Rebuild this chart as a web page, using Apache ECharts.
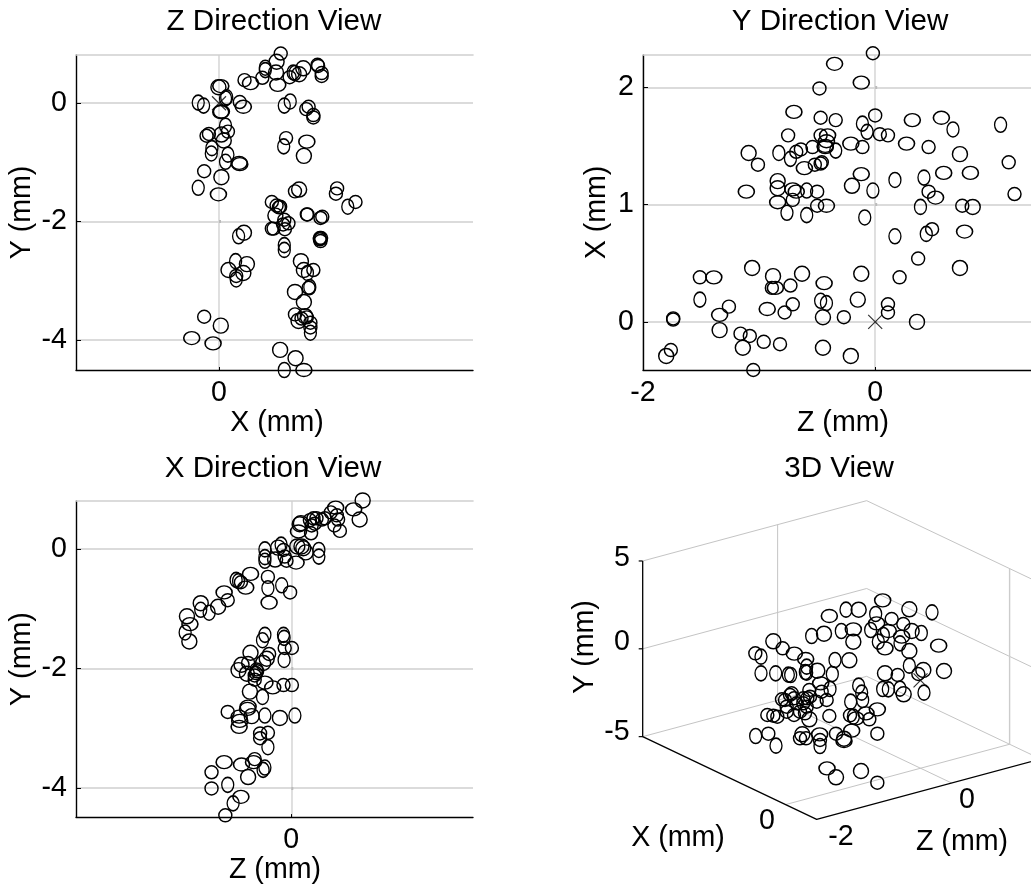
<!DOCTYPE html>
<html><head><meta charset="utf-8">
<style>html,body{margin:0;padding:0;background:#fff}#c{width:1031px;height:886px}</style>
<script src="https://cdn.jsdelivr.net/npm/echarts@6/dist/echarts.min.js"></script>
</head><body><div id="c"></div>
<script>
// Z Direction View: [X (mm), Y (mm)]
const zView = [[1.04,.84],[.97,.70],[.78,.60],[.78,.56],[.73,.43],[.96,.52],[.99,.31],[1.19,.44],[1.25,.52],[1.28,.51],[1.35,.49],[1.42,.59],[1.66,.65],[1.67,.63],[1.73,.51],[1.73,.46],[.43,.39],[.53,.34],[-.01,.27],[.03,.29],[-.35,.01],[-.26,-.04],[.13,.10],[.11,.08],[.35,.02],[.41,-.06],[.03,-.15],[.04,-.14],[1.10,-.04],[1.20,.03],[1.47,-.10],[1.51,-.06],[1.59,-.20],[1.59,-.24],[.11,-.38],[.15,-.48],[-.17,-.52],[-.21,-.55],[.04,-.53],[.08,-.63],[1.13,-.59],[1.09,-.73],[1.48,-.65],[1.43,-.89],[-.12,-.76],[-.13,-.85],[.15,-.87],[.11,-.99],[.34,-1.01],[.35,-1.03],[-.25,-1.15],[.04,-1.25],[-.35,-1.43],[-.01,-1.54],[1.28,-1.49],[1.35,-1.46],[1.99,-1.44],[1.97,-1.53],[2.30,-1.67],[2.17,-1.75],[.89,-1.67],[.97,-1.73],[1.03,-1.75],[1.01,-1.76],[.95,-1.90],[1.48,-1.88],[1.49,-1.88],[1.74,-1.92],[1.71,-1.94],[1.10,-1.97],[1.17,-2.03],[1.08,-2.05],[.89,-2.12],[.92,-2.12],[1.11,-2.13],[.42,-2.19],[.33,-2.25],[1.70,-2.28],[1.72,-2.28],[1.70,-2.30],[1.71,-2.33],[1.10,-2.40],[1.10,-2.48],[1.38,-2.67],[.28,-2.67],[.47,-2.72],[1.43,-2.82],[1.59,-2.82],[1.49,-2.87],[.16,-2.82],[.41,-2.87],[.29,-2.92],[.29,-2.98],[1.51,-3.12],[1.53,-3.11],[1.28,-3.19],[1.43,-3.36],[1.28,-3.57],[1.45,-3.60],[1.48,-3.62],[1.39,-3.64],[1.34,-3.68],[1.54,-3.71],[1.54,-3.79],[1.54,-3.88],[-.25,-3.61],[.03,-3.76],[-.46,-3.97],[-.10,-4.06],[1.03,-4.17],[1.29,-4.31],[1.10,-4.51],[1.43,-4.51]];
const zViewShape = '0 3 2 2 0 3 1 0 2 2 3 3 0 0 0 0 0 1 3 1 2 2 2 2 0 1 1 1 2 2 0 0 0 0 2 0 0 0 3 3 0 2 1 3 2 2 2 2 1 1 0 3 2 1 0 3 0 0 0 2 0 0 0 0 3 0 0 0 0 0 0 0 0 0 0 3 2 0 0 0 0 2 2 3 2 3 3 0 2 3 3 0 2 0 2 3 3 0 3 0 0 3 0 0 2 0 3 1 1 3 3 2 1'.split(' ');
// Y Direction View: [Z (mm), X (mm)]
const yView = [[-.02,2.29],[-.35,2.20],[-.12,2.04],[-.48,1.99],[-.70,1.79],[-.47,1.74],[-.34,1.72],[0,1.76],[-.11,1.69],[-.07,1.62],[.32,1.72],[.57,1.74],[.67,1.64],[1.08,1.68],[-.75,1.59],[-.47,1.59],[-.41,1.59],[-.42,1.54],[-.43,1.50],[-.43,1.49],[-.54,1.49],[-.64,1.47],[-.68,1.45],[-.73,1.39],[-.83,1.44],[-1.09,1.44],[-1.01,1.34],[1.15,1.36],[-.34,1.46],[-.21,1.52],[-.11,1.49],[.04,1.60],[.11,1.59],[.27,1.52],[.46,1.49],[.73,1.43],[-.46,1.36],[-.47,1.35],[-.52,1.34],[-.61,1.31],[-.84,1.20],[-.84,1.14],[-.12,1.26],[-.20,1.16],[.17,1.21],[.42,1.23],[.59,1.27],[.82,1.27],[-.02,1.12],[.46,1.11],[.52,1.06],[1.20,1.09],[-1.11,1.11],[-.71,1.13],[-.68,1.11],[-.59,1.12],[-.50,1.11],[-.71,1.04],[-.84,1.02],[-.50,.99],[-.42,.99],[-.76,.93],[-.59,.91],[-.09,.89],[.39,.98],[.75,.99],[.84,.98],[.17,.73],[.44,.75],[.49,.79],[.77,.77],[.37,.54],[.73,.46],[-1.06,.46],[-.88,.39],[-.63,.41],[-.12,.41],[.21,.38],[-1.51,.38],[-1.39,.38],[-.44,.33],[-.73,.31],[-.89,.29],[-.86,.29],[-1.51,.19],[-.47,.18],[-.42,.16],[-.15,.19],[-.71,.15],[-1.26,.13],[-.93,.11],[-.78,.08],[.11,.15],[.11,.08],[-1.74,.03],[-1.74,.02],[-1.34,.06],[-.45,.04],[-.27,.04],[.36,0],[-1.34,-.07],[-1.16,-.10],[-1.08,-.12],[-.96,-.17],[-.82,-.19],[-1.14,-.22],[-.45,-.22],[-.21,-.29],[-1.76,-.24],[-1.80,-.29],[-1.05,-.41]];
const yViewShape = ('01101000221122'+'0011110002230021000103'+'0001331322112010'+'111200101222203'+'220103'+'33330011001'+'222300100000130'+'330000333030').split('');
// X Direction View: [Z (mm), Y (mm)]
const xView = [[1.19,.81],[1.04,.66],[1.14,.49],[.74,.69],[.66,.61],[.76,.56],[.78,.49],[.72,.39],[.81,.30],[.56,.51],[.51,.49],[.42,.51],[.37,.51],[.31,.48],[.39,.42],[.34,.39],[.33,.26],[.16,.43],[.14,.41],[.12,.29],[.17,.04],[.10,.04],[.20,.01],[.24,-.06],[.46,-.02],[.46,-.13],[-.17,.07],[-.22,.02],[-.13,-.02],[-.11,-.13],[-.27,-.18],[-.08,-.20],[.08,-.23],[-.44,-.01],[-.44,-.14],[-.44,-.20],[-.68,-.42],[-.39,-.47],[-.16,-.61],[-.02,-.73],[-.39,-.66],[-.37,-.90],[-.92,-.52],[-.88,-.54],[-.84,-.56],[-.76,-.65],[-1.12,-.73],[-1.06,-.86],[-1.22,-.97],[-1.51,-.91],[-1.51,-1.02],[-1.37,-1.07],[-1.74,-1.13],[-1.69,-1.26],[-1.77,-1.40],[-1.70,-1.55],[-.44,-1.44],[-.48,-1.53],[-.13,-1.44],[-.12,-1.49],[-.11,-1.66],[.01,-1.66],[-.68,-1.74],[-.37,-1.76],[-.41,-1.84],[-.47,-1.91],[-.12,-1.86],[-.83,-1.94],[-.72,-1.91],[-.88,-2.03],[-.74,-2.09],[-.58,-2.02],[-.57,-2.05],[-.59,-2.08],[-.61,-2.12],[-.61,-2.19],[-.44,-2.24],[-.31,-2.32],[-.13,-2.28],[.01,-2.28],[-.69,-2.39],[-.48,-2.48],[-.72,-2.64],[-.73,-2.68],[-1.06,-2.73],[-.66,-2.80],[-.44,-2.79],[-.19,-2.83],[.06,-2.79],[-.87,-2.81],[-.86,-2.88],[-.87,-2.98],[-.52,-3.09],[-.39,-3.08],[-.52,-3.17],[-.39,-3.32],[-1.12,-3.57],[-.83,-3.61],[-.63,-3.57],[-.61,-3.52],[-.44,-3.66],[-.47,-3.70],[-1.33,-3.74],[-.72,-3.82],[-1.06,-3.95],[-1.33,-4.01],[-.84,-4.15],[-.97,-4.26],[-1.10,-4.46]];
const xViewShape = ('31310000000000000331'+'3333222300301222'+'10202122011033223123'+'22220030332303300000110032'+'11032321110002'+'1110220320120').split('');
// 3D View: points as seen on the view plane [across, down]
const view3d = [[938,451],[828,479],[866,479],[1018,478],[1086,487],[778,498],[917,492],[965,507],[920,520],[1000,522],[814,543],[850,538],[902,540],[955,543],[1025,543],[1054,549],[725,558],[762,551],[940,555],[995,560],[850,575],[925,575],[990,580],[945,595],[1018,603],[1106,587],[610,574],[638,595],[673,611],[556,610],[573,620],[707,627],[795,630],[838,631],[710,650],[1018,647],[1122,663],[1060,660],[1045,672],[1062,728],[573,670],[617,670],[655,674],[662,675],[706,666],[710,668],[742,662],[787,672],[945,670],[983,675],[752,700],[866,707],[938,717],[955,718],[990,716],[1001,733],[780,717],[875,728],[878,750],[755,725],[718,720],[665,730],[660,735],[636,748],[645,750],[672,745],[700,745],[712,745],[720,740],[770,750],[740,755],[842,755],[922,778],[888,790],[898,808],[650,770],[680,760],[700,760],[710,770],[690,785],[705,790],[592,795],[610,797],[622,800],[650,785],[672,795],[718,808],[778,798],[840,796],[850,800],[858,805],[845,842],[798,851],[922,851],[557,858],[595,851],[697,853],[690,865],[708,865],[749,853],[750,870],[750,888],[822,866],[822,873],[618,887],[771,955],[798,982],[873,963],[922,998]];
const view3dShape = ('1233212010212132232132213130102123223302222222323012222322200000000000021100000000000030021100203001'+'02312133').split('');
const origin3d = [[0,0,0]];
// tick labels
const zViewXTicks=[0], yTicksA=[-4,-2,0], yViewXTicks=[-2,0], yViewYTicks=[0,1,2], xViewXTicks=[0];
const titles=['Z Direction View','Y Direction View','X Direction View','3D View'];
const ellipse=[[13,13],[16,13],[12,15],[15,15]];
const FONT='"Liberation Sans",Arial,sans-serif', FS=28.6, TS=29.6, GRID='#cfcfcf', INK='#000';

const grids=[{left:76,top:55,width:397,height:315},{left:643,top:55,width:388,height:315},{left:76,top:501,width:397,height:317},{left:570,top:450,width:461,height:436}];
const xAxis=[],yAxis=[],series=[];
function panel(i,xr,yr,xt,yt,xn,yn,pts,shape,cross,yGap,pad){
  const label={fontFamily:FONT,fontSize:FS,color:'#000'};
  xAxis.push({type:'value',gridIndex:i,min:xr[0],max:xr[1],position:'bottom',name:xn,nameLocation:'middle',nameGap:33,nameTextStyle:{fontFamily:FONT,fontSize:FS,color:'#000',padding:[0,0,0,pad]},
    axisLine:{onZero:false,lineStyle:{color:'#000',width:1.4}},axisTick:{inside:true,length:3,customValues:xt,lineStyle:{color:'#000'}},axisLabel:{...label,margin:9,customValues:xt,showMinLabel:true,showMaxLabel:true},
    splitLine:{show:true,lineStyle:{color:'#d8d8d8',width:1.6}}});
  const xi=xAxis.length-1;
  xAxis.push({type:'value',gridIndex:i,min:xr[0],max:xr[1],position:'top',axisLine:{onZero:false,lineStyle:{color:GRID,width:1.6}},axisTick:{show:false},axisLabel:{show:false},splitLine:{show:false}});
  yAxis.push({type:'value',gridIndex:i,min:yr[0],max:yr[1],position:'left',name:yn,nameLocation:'middle',nameRotate:90,nameGap:yGap,nameTextStyle:{fontFamily:FONT,fontSize:FS,color:'#000'},
    axisLine:{onZero:false,lineStyle:{color:'#000',width:1.4}},axisTick:{inside:true,length:5,customValues:yt,lineStyle:{color:'#000'}},axisLabel:{...label,margin:9,customValues:yt,showMinLabel:true,showMaxLabel:true},
    splitLine:{show:true,lineStyle:{color:GRID,width:1.6}}});
  const yi=yAxis.length-1;
  yAxis.push({type:'value',gridIndex:i,min:yr[0],max:yr[1],position:'right',axisLine:{show:false},axisTick:{length:2,customValues:yt,lineStyle:{color:'#bbb',width:3}},axisLabel:{show:false},splitLine:{show:false}});
  series.push({type:'scatter',xAxisIndex:xi,yAxisIndex:yi,clip:false,silent:true,symbol:'circle',
    data:pts.map((p,k)=>[p[0],p[1],+(shape[k]||0)]),symbolSize:v=>ellipse[v[2]],
    itemStyle:{color:'rgba(0,0,0,0)',borderColor:INK,borderWidth:1.45,opacity:1}});
  if(cross) series.push({type:'scatter',xAxisIndex:xi,yAxisIndex:yi,clip:false,silent:true,symbol:'path://M0 0L10 10M10 0L0 10',symbolSize:14,
    data:[[0,0]],itemStyle:{color:'rgba(0,0,0,0)',borderColor:INK,borderWidth:1.2}});
}
panel(0,[-2.41,4.28],[-4.51,.815],zViewXTicks,yTicksA,'X (mm)','Y (mm)',zView,zViewShape,true,39,5);
panel(1,[-2,1.342],[-.41,2.275],yViewXTicks,yViewYTicks,'Z (mm)','X (mm)',yView,yViewShape,true,31,12);
panel(2,[-3.59,3.03],[-4.49,.8],xViewXTicks,yTicksA,'Z (mm)','Y (mm)',xView,xViewShape,false,39,1);

// 3D panel: orthographic view of the axis box, through hidden view-plane axes
const xA=xAxis.length,yA=yAxis.length;
xAxis.push({type:'value',gridIndex:3,min:0,max:1383,show:false,splitLine:{show:false}});
yAxis.push({type:'value',gridIndex:3,min:0,max:1308,inverse:true,show:false,splitLine:{show:false}});
const Xr=[-.5,2.3],Yr=[-5,5],Zr=[-2,1.32];
const proj=(X,Y,Z)=>[740+(Z+2)*202.4-(X+.5)*186.4,1108-(Z+2)*54.5-(X+.5)*88.6-(Y+5)*52.7];
function poly(pts,color,width){series.push({type:'line',xAxisIndex:xA,yAxisIndex:yA,clip:false,silent:true,showSymbol:false,symbol:'none',data:pts,lineStyle:{color,width},z:1});}
[5,0,-5].forEach(Y=>poly([proj(Xr[1],Y,Zr[0]),proj(Xr[1],Y,Zr[1]),proj(Xr[0],Y,Zr[1])],'#c4c4c4',1));
poly([proj(Xr[1],-5,0),proj(Xr[1],5,0)],'#c4c4c4',1);
poly([proj(0,-5,Zr[1]),proj(0,5,Zr[1])],'#cccccc',1.4);
poly([proj(0,-5,Zr[0]),proj(0,-5,Zr[1])],'#c4c4c4',1);
poly([proj(Xr[0],-5,0),proj(Xr[1],-5,0)],'#c4c4c4',1);
poly([proj(Xr[1],5,Zr[0]),proj(Xr[1],-5,Zr[0]),proj(Xr[0],-5,Zr[0]),proj(Xr[0],-5,Zr[1])],'#000',1.3);
[5,0,-5].forEach(Y=>{const p=proj(Xr[1],Y,Zr[0]);poly([p,[p[0]-12,p[1]]],'#000',1.2);});
series.push({type:'scatter',xAxisIndex:xA,yAxisIndex:yA,clip:false,silent:true,symbol:'circle',z:3,
  data:view3d.map((p,k)=>[p[0],p[1],+(view3dShape[k]||0)]),symbolSize:v=>ellipse[v[2]],
  itemStyle:{color:'rgba(0,0,0,0)',borderColor:INK,borderWidth:1.45,opacity:1}});
series.push({type:'scatter',xAxisIndex:xA,yAxisIndex:yA,clip:false,silent:true,symbol:'path://M0 0L10 10M10 0L0 10',symbolSize:14,z:3,
  data:origin3d.map(p=>proj(p[0],p[1],p[2])),itemStyle:{color:'rgba(0,0,0,0)',borderColor:INK,borderWidth:1.2}});

const txt=(text,x,y,rot,fs)=>({type:'text',x,y,rotation:rot||0,silent:true,style:{text,align:'center',verticalAlign:'middle',fontFamily:FONT,fontSize:fs||FS,fill:'#000'}});
const graphic=[txt(titles[0],274,22,0,TS),txt(titles[1],840,22,0,TS),txt(titles[2],273,469,0,TS),txt(titles[3],839,469,0,TS),
  txt('5',622,558),txt('0',622,642),txt('-5',617,732),txt('X (mm)',678,838),txt('0',767,821),txt('-2',841,837),txt('0',967,800),txt('Z (mm)',962,842),txt('Y (mm)',585,647,Math.PI/2)];

const chart=echarts.init(document.getElementById('c'),null,{renderer:'canvas'});
chart.setOption({animation:false,backgroundColor:'#fff',grid:grids,xAxis,yAxis,series,graphic});
</script></body></html>
